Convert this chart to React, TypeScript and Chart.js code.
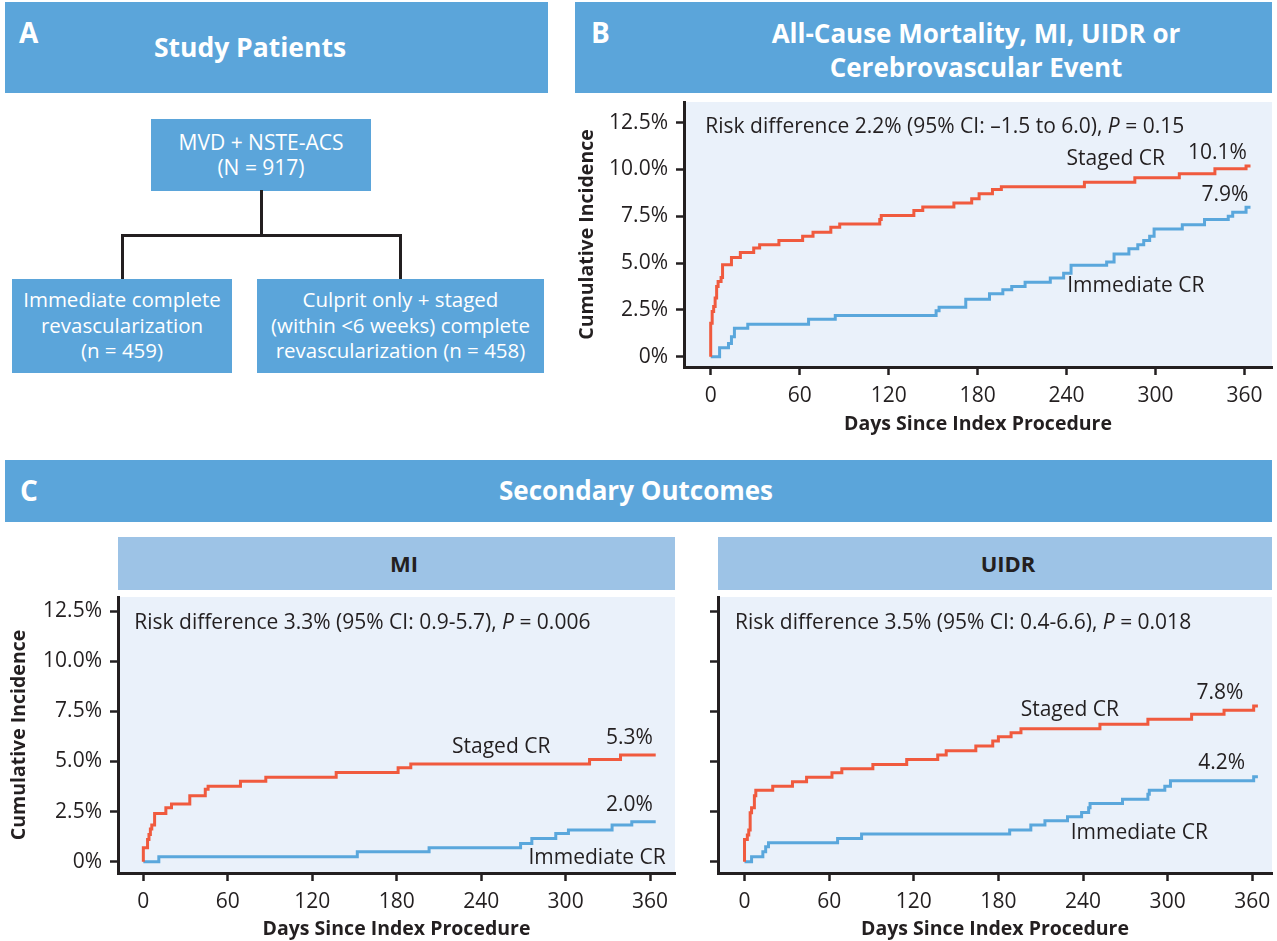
import React, { useEffect, useRef } from "react";
import { Chart, registerables } from "chart.js";

Chart.register(...registerables);

const FONT = '"Open Sans", "Noto Sans", "DejaVu Sans", sans-serif';
const INK = "#231f20";
const RED = "#F05A3E";
const BLUE = "#5AA7DC";
const HEADER = "#5BA5DA";
const SUBHEADER = "#9DC3E6";
const PLOT_BG = "#EAF1FA";

Chart.defaults.font.family = FONT;

// ---- tick labels ----
const dayTicks = [0, 60, 120, 180, 240, 300, 360];
const pctTicks = [0, 2.5, 5, 7.5, 10, 12.5];

// ---- Panel B: All-cause mortality, MI, UIDR or cerebrovascular event ----
const bStagedDays = [0, 0, 1, 2, 3, 4, 5, 7, 8, 14, 20, 29, 33, 46, 62, 69, 81, 87, 114, 115, 137, 143, 164, 176, 181, 190, 196, 252, 286, 316, 340, 361, 364];
const bStagedPct = [0, 1.79, 2.41, 2.68, 3.13, 3.75, 4.02, 4.23, 4.91, 5.3, 5.57, 5.8, 5.98, 6.2, 6.43, 6.64, 6.91, 7.09, 7.32, 7.54, 7.8, 8.0, 8.21, 8.43, 8.7, 8.93, 9.07, 9.32, 9.55, 9.77, 10.04, 10.18, 10.18];
const bImmediateDays = [0, 6, 12, 14, 16, 25, 66, 84, 152, 154, 172, 188, 197, 203, 212, 229, 238, 243, 267, 272, 282, 288, 292, 296, 299, 318, 333, 349, 352, 361, 364];
const bImmediatePct = [0, 0.48, 0.71, 1.07, 1.52, 1.73, 2.0, 2.2, 2.46, 2.64, 3.07, 3.36, 3.57, 3.75, 3.98, 4.2, 4.46, 4.88, 5.05, 5.48, 5.77, 5.98, 6.21, 6.43, 6.82, 7.05, 7.32, 7.5, 7.71, 7.98, 7.98];

// ---- Panel C: MI ----
const miStagedDays = [0, 0, 3, 4, 5, 6, 8, 16, 20, 33, 44, 46, 69, 87, 137, 181, 190, 317, 339, 364];
const miStagedPct = [0, 0.7, 1.11, 1.36, 1.63, 1.83, 2.41, 2.69, 2.88, 3.29, 3.61, 3.77, 4.02, 4.21, 4.45, 4.69, 4.87, 5.1, 5.32, 5.32];
const miImmediateDays = [0, 11, 152, 203, 268, 276, 293, 302, 333, 347, 364];
const miImmediatePct = [0, 0.25, 0.5, 0.7, 0.91, 1.16, 1.41, 1.58, 1.83, 1.99, 1.99];

// ---- Panel C: UIDR ----
const uStagedDays = [0, 0, 2, 3, 4, 5, 7, 8, 20, 34, 44, 62, 69, 91, 115, 137, 143, 164, 176, 180, 189, 196, 252, 286, 317, 340, 361, 364];
const uStagedPct = [0, 1.11, 1.33, 1.58, 2.44, 2.69, 3.29, 3.57, 3.77, 3.99, 4.21, 4.44, 4.64, 4.85, 5.1, 5.32, 5.54, 5.77, 6.02, 6.23, 6.43, 6.63, 6.85, 7.1, 7.35, 7.55, 7.77, 7.77];
const uImmediateDays = [0, 5, 13, 15, 17, 66, 83, 188, 203, 213, 229, 239, 244, 245, 268, 286, 287, 298, 302, 361, 364];
const uImmediatePct = [0, 0.25, 0.5, 0.75, 0.95, 1.16, 1.38, 1.58, 1.83, 2.04, 2.24, 2.46, 2.69, 2.91, 3.12, 3.36, 3.57, 3.77, 4.04, 4.24, 4.24];

// ---- annotations (data coordinates) ----
const bNotes = [
  { parts: [{ t: "Risk difference 2.2% (95% CI: \u20131.5 to 6.0), " }, { t: "P", i: true }, { t: " = 0.15" }], x: -3.6, y: 12.29, align: "left" },
  { parts: [{ t: "Staged CR" }], x: 240, y: 10.54, align: "left" },
  { parts: [{ t: "10.1%" }], x: 361.5, y: 10.89, align: "right" },
  { parts: [{ t: "7.9%" }], x: 362.5, y: 8.61, align: "right" },
  { parts: [{ t: "Immediate CR" }], x: 240.4, y: 3.75, align: "left" },
];
const miNotes = [
  { parts: [{ t: "Risk difference 3.3% (95% CI: 0.9-5.7), " }, { t: "P", i: true }, { t: " = 0.006" }], x: -6.4, y: 11.89, align: "left" },
  { parts: [{ t: "Staged CR" }], x: 219.3, y: 5.73, align: "left" },
  { parts: [{ t: "5.3%" }], x: 362, y: 6.15, align: "right" },
  { parts: [{ t: "2.0%" }], x: 362, y: 2.83, align: "right" },
  { parts: [{ t: "Immediate CR" }], x: 273.6, y: 0.17, align: "left" },
];
const uNotes = [
  { parts: [{ t: "Risk difference 3.5% (95% CI: 0.4-6.6), " }, { t: "P", i: true }, { t: " = 0.018" }], x: -6.7, y: 11.89, align: "left" },
  { parts: [{ t: "Staged CR" }], x: 195.8, y: 7.56, align: "left" },
  { parts: [{ t: "7.8%" }], x: 353.7, y: 8.39, align: "right" },
  { parts: [{ t: "4.2%" }], x: 354.9, y: 4.9, align: "right" },
  { parts: [{ t: "Immediate CR" }], x: 231.3, y: 1.41, align: "left" },
];

const bgPlugin = {
  id: "plotBg",
  beforeDraw(chart: any) {
    const { ctx, chartArea } = chart;
    const { left, top, right, bottom } = chartArea;
    ctx.save();
    ctx.fillStyle = PLOT_BG;
    ctx.fillRect(left, top, right - left, bottom - top);
    ctx.restore();
  },
};

function makeNotesPlugin(notes: any[]) {
  return {
    id: "kmNotes",
    afterDraw(chart: any) {
      const { ctx } = chart;
      const xs = chart.scales.x;
      const ys = chart.scales.y;
      ctx.save();
      ctx.fillStyle = INK;
      ctx.textBaseline = "middle";
      ctx.textAlign = "left";
      notes.forEach((n) => {
        let total = 0;
        const widths = n.parts.map((p: any) => {
          ctx.font = `${p.i ? "italic " : ""}21px ${FONT}`;
          const w = ctx.measureText(p.t).width;
          total += w;
          return w;
        });
        let px = xs.getPixelForValue(n.x);
        const py = ys.getPixelForValue(n.y);
        if (n.align === "right") px -= total;
        n.parts.forEach((p: any, k: number) => {
          ctx.font = `${p.i ? "italic " : ""}21px ${FONT}`;
          ctx.fillText(p.t, px, py);
          px += widths[k];
        });
      });
      ctx.restore();
    },
  };
}

type Series = { days: number[]; pct: number[]; color: string };

function KMChart(props: any) {
  const ref = useRef<HTMLCanvasElement | null>(null);
  const { box, yAxisWidth, xAxisHeight, padTop, padRight, xMin, xMax, yMin, yMax, series, notes, showY, yTitlePad, xTitlePad } = props;
  useEffect(() => {
    if (!ref.current) return;
    const chart = new Chart(ref.current, {
      type: "line",
      data: {
        datasets: (series as Series[]).map((s) => ({
          data: s.days.map((d, i) => ({ x: d, y: s.pct[i] })),
          borderColor: s.color,
          backgroundColor: s.color,
          borderWidth: 3,
          stepped: "before",
          pointRadius: 0,
          fill: false,
          borderJoinStyle: "miter",
          borderCapStyle: "butt",
        })),
      },
      options: {
        animation: false,
        responsive: false,
        maintainAspectRatio: false,
        events: [],
        layout: { padding: { top: padTop, right: padRight, left: 0, bottom: 0 } },
        plugins: { legend: { display: false }, tooltip: { enabled: false }, title: { display: false } },
        scales: {
          x: {
            type: "linear",
            min: xMin,
            max: xMax,
            afterBuildTicks: (s: any) => {
              s.ticks = dayTicks.map((v) => ({ value: v }));
            },
            afterFit: (s: any) => {
              s.height = xAxisHeight;
              s.paddingLeft = 0;
              s.paddingRight = 0;
            },
            grid: { display: true, drawOnChartArea: false, drawTicks: true, tickLength: 8, tickWidth: 2.5, tickColor: INK },
            border: { display: true, color: INK, width: 3 },
            ticks: { color: INK, font: { family: FONT, size: 21 }, padding: 8, maxRotation: 0, autoSkip: false, callback: (v: any) => String(v) },
            title: { display: true, text: "Days Since Index Procedure", color: INK, font: { family: FONT, size: 19.5, weight: "bold" }, padding: { top: 0, bottom: xTitlePad } },
          },
          y: {
            type: "linear",
            min: yMin,
            max: yMax,
            afterBuildTicks: (s: any) => {
              s.ticks = pctTicks.map((v) => ({ value: v }));
            },
            afterFit: (s: any) => {
              s.width = yAxisWidth;
              s.paddingTop = 0;
              s.paddingBottom = 0;
            },
            grid: { display: true, drawOnChartArea: false, drawTicks: true, tickLength: 8, tickWidth: 2.5, tickColor: INK },
            border: { display: true, color: INK, width: 3 },
            ticks: {
              display: showY,
              color: INK,
              font: { family: FONT, size: 21 },
              padding: 8,
              autoSkip: false,
              callback: (v: any) => (Number(v) === 0 ? "0%" : Number(v).toFixed(1) + "%"),
            },
            title: { display: showY, text: "Cumulative Incidence", color: INK, font: { family: FONT, size: 19.5, weight: "bold" }, padding: { top: yTitlePad, bottom: 0 } },
          },
        },
      },
      plugins: [bgPlugin, makeNotesPlugin(notes)],
    } as any);
    return () => chart.destroy();
  }, []);
  return (
    <canvas
      ref={ref}
      width={box.width}
      height={box.height}
      style={{ position: "absolute", left: box.left, top: box.top, width: box.width, height: box.height, display: "block" }}
    />
  );
}

function Txt(props: any) {
  const { x, y, children, size = 21, bold = false, color = "#fff", align = "center", lh = 26 } = props;
  const style: any = {
    position: "absolute",
    top: y - lh / 2,
    lineHeight: lh + "px",
    fontSize: size,
    fontWeight: bold ? 700 : 400,
    color,
    whiteSpace: "nowrap",
    fontFamily: FONT,
  };
  if (align === "center") {
    style.left = x - 400;
    style.width = 800;
    style.textAlign = "center";
  } else {
    style.left = x;
  }
  return <div style={style}>{children}</div>;
}

function Rect(props: any) {
  const { l, t, w, h, c } = props;
  return <div style={{ position: "absolute", left: l, top: t, width: w, height: h, background: c }} />;
}

export default function App() {
  return (
    <div style={{ position: "absolute", left: 0, top: 0, width: 1277, height: 941, background: "#fff", overflow: "hidden", fontFamily: FONT }}>
      {/* Panel A */}
      <Rect l={5} t={2} w={543} h={91} c={HEADER} />
      <Txt x={19} y={32} size={28} bold align="left" lh={32}>A</Txt>
      <Txt x={250} y={47} size={26.5} bold lh={32}>Study Patients</Txt>

      <Rect l={151} t={119} w={220} h={72} c={HEADER} />
      <Txt x={261} y={142} size={21} lh={25}>MVD + NSTE-ACS<br />(N = 917)</Txt>

      <Rect l={259.5} t={190} w={3} h={46} c={INK} />
      <Rect l={121} t={233.5} w={281} h={3} c={INK} />
      <Rect l={121} t={233.5} w={3} h={46} c={INK} />
      <Rect l={399} t={233.5} w={3} h={46} c={INK} />

      <Rect l={12} t={279} w={220} h={94} c={HEADER} />
      <Txt x={122} y={300} size={20.5} lh={25.5}>Immediate complete<br />revascularization<br />(n = 459)</Txt>
      <Rect l={257} t={279} w={287} h={94} c={HEADER} />
      <Txt x={400.5} y={300} size={20.5} lh={25.5}>Culprit only + staged<br />(within &lt;6 weeks) complete<br />revascularization (n = 458)</Txt>

      {/* Panel B */}
      <Rect l={575} t={2} w={697} h={91} c={HEADER} />
      <Txt x={591} y={32} size={28} bold align="left" lh={32}>B</Txt>
      <Txt x={976} y={33} size={26} bold lh={34}>All-Cause Mortality, MI, UIDR or<br />Cerebrovascular Event</Txt>
      <KMChart
        box={{ left: 570, top: 95, width: 707, height: 350 }}
        yAxisWidth={114}
        xAxisHeight={78}
        padTop={7}
        padRight={5}
        xMin={-18}
        xMax={378.5}
        yMin={-0.55}
        yMax={13.6}
        showY={true}
        yTitlePad={6}
        xTitlePad={9}
        series={[
          { days: bStagedDays, pct: bStagedPct, color: RED },
          { days: bImmediateDays, pct: bImmediatePct, color: BLUE },
        ]}
        notes={bNotes}
      />

      {/* Panel C */}
      <Rect l={5} t={460} w={1267} h={62} c={HEADER} />
      <Txt x={20} y={490} size={28} bold align="left" lh={32}>C</Txt>
      <Txt x={636} y={490} size={26} bold lh={32}>Secondary Outcomes</Txt>

      <Rect l={118} t={537} w={557} h={53} c={SUBHEADER} />
      <Txt x={404} y={563} size={22} bold color={INK} lh={28}>MI</Txt>
      <Rect l={718} t={537} w={554} h={53} c={SUBHEADER} />
      <Txt x={1008} y={563} size={22} bold color={INK} lh={28}>UIDR</Txt>

      <KMChart
        box={{ left: 0, top: 590, width: 680, height: 351 }}
        yAxisWidth={118}
        xAxisHeight={68}
        padTop={7}
        padRight={5}
        xMin={-18}
        xMax={377.7}
        yMin={-0.56}
        yMax={13.2}
        showY={true}
        yTitlePad={8}
        xTitlePad={0}
        series={[
          { days: miStagedDays, pct: miStagedPct, color: RED },
          { days: miImmediateDays, pct: miImmediatePct, color: BLUE },
        ]}
        notes={miNotes}
      />
      <KMChart
        box={{ left: 690, top: 590, width: 587, height: 351 }}
        yAxisWidth={28}
        xAxisHeight={68}
        padTop={7}
        padRight={5}
        xMin={-18.8}
        xMax={374}
        yMin={-0.56}
        yMax={13.2}
        showY={false}
        yTitlePad={0}
        xTitlePad={0}
        series={[
          { days: uStagedDays, pct: uStagedPct, color: RED },
          { days: uImmediateDays, pct: uImmediatePct, color: BLUE },
        ]}
        notes={uNotes}
      />
    </div>
  );
}
